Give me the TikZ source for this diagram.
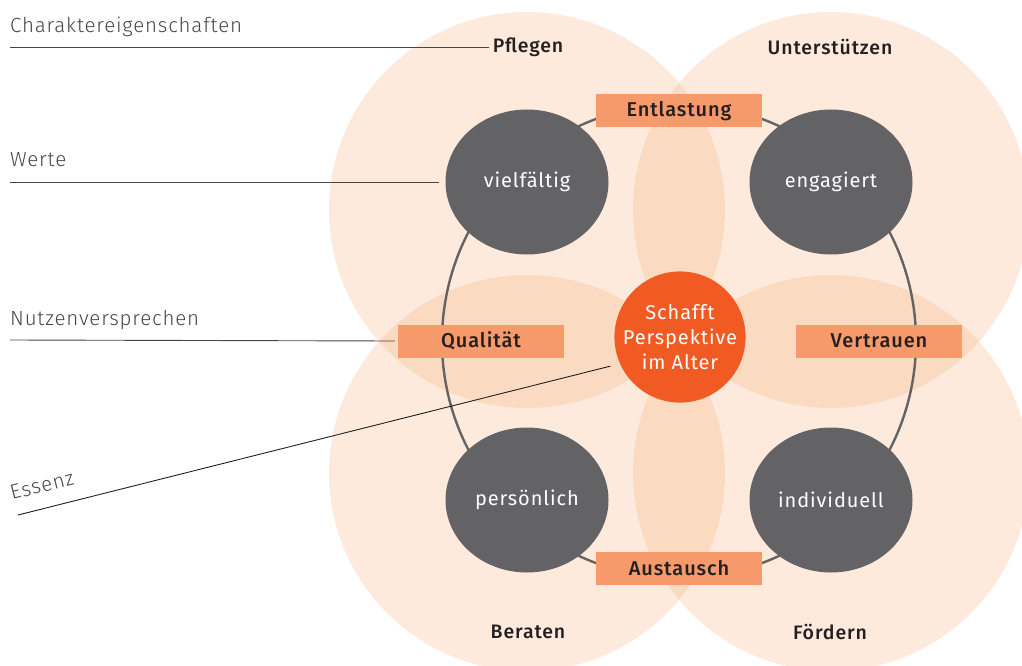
\documentclass[tikz,border=0pt]{standalone}
\usepackage{fontspec}
\setmainfont{Fira Sans}[LetterSpace=4.5]
\newfontfamily\thinfont{Fira Sans}[UprightFont={* Light},LetterSpace=4]
\newfontfamily\widefont{Fira Sans}[UprightFont={* Medium},LetterSpace=4.5]
\usepackage{tikz}
\usetikzlibrary{positioning,shapes,calc}
\definecolor{mypeach}{RGB}{245,160,100}
\definecolor{myorange}{RGB}{241,90,34}
\definecolor{mysalmon}{RGB}{247,154,107}
\definecolor{mygrey}{RGB}{99,98,101}
\definecolor{myink}{RGB}{35,31,32}
\definecolor{myline}{RGB}{70,70,70}

\begin{document}
\begin{tikzpicture}[x=1pt,y=-1pt,
          petal/.style={circle,fill=mypeach,fill opacity=0.22,minimum size=396pt,inner sep=0pt},
          trait/.style={ellipse,fill=mygrey,minimum width=163pt,minimum height=145pt,inner sep=0pt,
                        text=white,font=\fontsize{20}{22}\selectfont},
          benefit/.style={rectangle,fill=mysalmon,minimum width=166pt,minimum height=33pt,inner sep=0pt,
                          text=myink,font=\widefont\fontsize{20}{22}\selectfont},
          verb/.style={text=myink,font=\widefont\fontsize{19.5}{22}\selectfont},
          level/.style={anchor=base west,inner sep=0pt,text=myline,font=\thinfont\fontsize{20.5}{22}\selectfont},
          guide/.style={draw=myline,line width=0.9pt}
          ]
          \useasboundingbox (0,0) rectangle (1022,666);
          % the four petals
          \foreach \i/\xcoord/\ycoord in {tl/527/210,tr/831/210,bl/527/473,br/831/473}
            \node[petal] (p\i) at (\xcoord,\ycoord) {};
          % the ring through the traits
          \node[circle,draw=mygrey,line width=2.4pt,minimum size=474pt,inner sep=0pt] (ring) at (679,341) {};
          % the traits
          \foreach \i/\xcoord/\ycoord/\txt in {vf/527/182/vielfältig,en/831/182/engagiert,
                                               pe/527/500/persönlich,iv/831/500/individuell}
            \node[trait] (\i) at (\xcoord,\ycoord) {\txt};
          % the core
          \node[circle,fill=myorange,minimum size=128pt,inner sep=0pt,text=white,align=center,
                font=\fontsize{20}{25}\selectfont] (core) at (680,337) {Schafft\\Perspektive\\im Alter};
          % the benefits
          \foreach \i/\xcoord/\ycoord/\txt in {ent/679/111/Entlastung,qual/481/341/Qualität,
                                               ver/879/341/Vertrauen,aus/679/568/Austausch}
            \node[benefit] (\i) at (\xcoord,\ycoord) {\txt};
          % the verbs
          \node[verb] (pflegen) at (528,47) {Pflegen};
          \node[verb] (unterst) at (830,47) {Unterstützen};
          \node[verb] (beraten) at (528,632) {Beraten};
          \node[verb] (foerdern) at (830,632) {Fördern};
          % the levels on the left
          \node[level] (charakter) at (10,33) {Charaktereigenschaften};
          \node[level] (werte) at (10,166) {Werte};
          \node[level] (nutzen) at (10,325) {Nutzenversprechen};
          \node[level,rotate=14] (essenz) at (12,500) {Essenz};
          \coordinate (essenzend) at (18,515);
          % the guide lines
          \draw[guide] ([yshift=-14pt]charakter.base west) -- (pflegen.west);
          \draw[guide] ([yshift=-16pt]werte.base west) -- ([xshift=-6pt]vf.west);
          \draw[guide] ([yshift=-15pt]nutzen.base west) -- ([xshift=-3pt]qual.west);
          \draw[guide,draw=myink,shorten >=10pt] (essenzend) -- (core.204);
        \end{tikzpicture}
\end{document}
